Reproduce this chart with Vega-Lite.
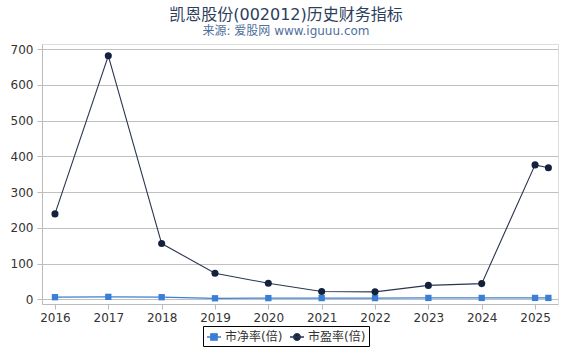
{
  "$schema": "https://vega.github.io/schema/vega-lite/v6.json",
  "width": 570,
  "height": 350,
  "autosize": {"type": "fit", "contains": "padding"},
  "padding": {"left": 10, "right": 12, "top": 8, "bottom": 27},
  "background": "white",
  "title": {
    "text": "凯恩股份(002012)历史财务指标",
    "subtitle": "来源: 爱股网 www.iguuu.com",
    "font": "DejaVu Sans, Noto Sans CJK SC",
    "subtitleFont": "DejaVu Sans, Noto Sans CJK SC",
    "fontSize": 16,
    "subtitleFontSize": 12,
    "fontWeight": "normal",
    "color": "#2c3e5c",
    "subtitleColor": "#4f6f9c",
    "anchor": "middle",
    "frame": "group",
    "dx": -14,
    "offset": 6,
    "subtitlePadding": 3
  },
  "data": {
    "values": [
      {"year": 2016, "series": "市净率(倍)", "value": 6},
      {"year": 2017, "series": "市净率(倍)", "value": 7},
      {"year": 2018, "series": "市净率(倍)", "value": 6},
      {"year": 2019, "series": "市净率(倍)", "value": 3},
      {"year": 2020, "series": "市净率(倍)", "value": 3.5},
      {"year": 2021, "series": "市净率(倍)", "value": 3.5},
      {"year": 2022, "series": "市净率(倍)", "value": 3.5},
      {"year": 2023, "series": "市净率(倍)", "value": 4},
      {"year": 2024, "series": "市净率(倍)", "value": 4},
      {"year": 2025, "series": "市净率(倍)", "value": 4},
      {"year": 2025.25, "series": "市净率(倍)", "value": 4},
      {"year": 2016, "series": "市盈率(倍)", "value": 239},
      {"year": 2017, "series": "市盈率(倍)", "value": 681},
      {"year": 2018, "series": "市盈率(倍)", "value": 156},
      {"year": 2019, "series": "市盈率(倍)", "value": 73},
      {"year": 2020, "series": "市盈率(倍)", "value": 45},
      {"year": 2021, "series": "市盈率(倍)", "value": 22},
      {"year": 2022, "series": "市盈率(倍)", "value": 21},
      {"year": 2023, "series": "市盈率(倍)", "value": 39},
      {"year": 2024, "series": "市盈率(倍)", "value": 44},
      {"year": 2025, "series": "市盈率(倍)", "value": 376},
      {"year": 2025.25, "series": "市盈率(倍)", "value": 368}
    ]
  },
  "encoding": {
    "x": {
      "field": "year",
      "type": "quantitative",
      "title": null,
      "scale": {"domain": [2015.757, 2025.43], "nice": false, "zero": false},
      "axis": {
        "values": [2016, 2017, 2018, 2019, 2020, 2021, 2022, 2023, 2024, 2025],
        "format": "d",
        "grid": false,
        "domainColor": "#bbbbbb",
        "tickColor": "#bbbbbb",
        "tickSize": 5,
        "labelFont": "DejaVu Sans",
        "labelFontSize": 12,
        "labelColor": "#333333",
        "labelPadding": 3,
        "labelFlush": false
      }
    },
    "y": {
      "field": "value",
      "type": "quantitative",
      "title": null,
      "scale": {"domain": [-13, 714], "nice": false, "zero": false},
      "axis": {
        "values": [0, 100, 200, 300, 400, 500, 600, 700],
        "grid": true,
        "gridColor": "#c0c0c0",
        "domainColor": "#bbbbbb",
        "tickColor": "#bbbbbb",
        "tickSize": 5,
        "labelFont": "DejaVu Sans",
        "labelFontSize": 12,
        "labelColor": "#333333",
        "labelPadding": 4
      }
    }
  },
  "layer": [
    {
      "transform": [{"filter": "datum.series === '市净率(倍)'"}],
      "mark": {"type": "line", "color": "#3a7fd5", "strokeWidth": 1.2}
    },
    {
      "transform": [{"filter": "datum.series === '市净率(倍)'"}],
      "mark": {"type": "point", "shape": "square", "filled": true, "opacity": 1, "color": "#3a7fd5", "size": 40}
    },
    {
      "transform": [{"filter": "datum.series === '市盈率(倍)'"}],
      "mark": {"type": "line", "color": "#2a3550", "strokeWidth": 1.1}
    },
    {
      "transform": [{"filter": "datum.series === '市盈率(倍)'"}],
      "mark": {"type": "point", "shape": "circle", "filled": true, "opacity": 1, "color": "#14213d", "size": 50}
    },
    {
      "mark": {"type": "point", "filled": true, "opacity": 0},
      "encoding": {
        "color": {
          "field": "series",
          "type": "nominal",
          "scale": {"domain": ["市净率(倍)", "市盈率(倍)"], "range": ["#3a7fd5", "#14213d"]},
          "legend": {
            "title": null,
            "orient": "none",
            "legendX": 161,
            "legendY": 282,
            "direction": "horizontal",
            "strokeColor": "#000000",
            "padding": 3,
            "labelFont": "DejaVu Sans, Noto Sans CJK SC",
            "labelFontSize": 12,
            "labelColor": "#333333",
            "symbolSize": 196,
            "symbolOpacity": 1,
            "columnPadding": 4,
            "labelOffset": 3,
            "encode": {
              "symbols": {
                "update": {
                  "shape": {"signal": "datum.label === '市净率(倍)' ? 'M-1,0H1M-0.46,-0.46H0.46V0.46H-0.46Z' : 'M-1,0H1M0.48,0A0.48,0.48,0,1,1,-0.48,0A0.48,0.48,0,1,1,0.48,0Z'"},
                  "stroke": {"signal": "datum.label === '市净率(倍)' ? '#3a7fd5' : '#2a3550'"},
                  "strokeWidth": {"value": 1.3},
                  "opacity": {"value": 1}
                }
              }
            }
          }
        }
      }
    }
  ]
}
